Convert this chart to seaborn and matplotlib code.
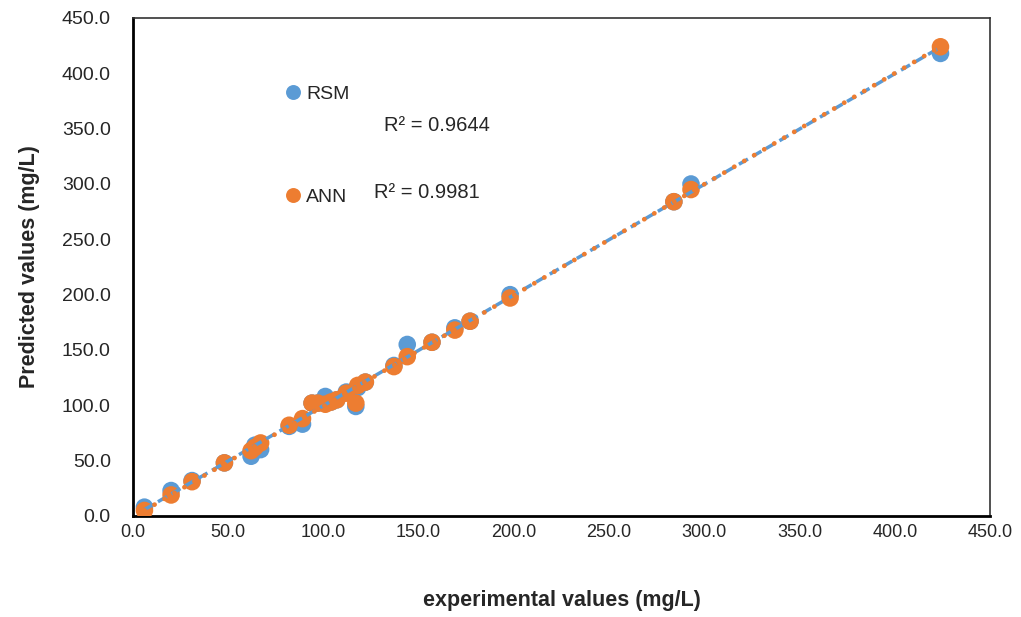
import numpy as np
import pandas as pd
import matplotlib
matplotlib.use("Agg")
import matplotlib.pyplot as plt
import seaborn as sns

# Data
experimental = [6, 20, 31, 48, 62, 64, 67, 82, 89, 94, 97, 101, 104, 107, 112, 117, 118, 122,
                137, 144, 157, 169, 177, 198, 284, 293, 424]
rsm_pred = [8, 23, 32, 48, 54, 64, 60, 81, 83, 102, 102, 108, 103, 105, 112, 99, 116, 121,
            136, 155, 157, 170, 176, 200, 284, 300, 418]
ann_pred = [5, 19, 31, 48, 59, 62, 66, 82, 88, 102, 102, 101, 103, 105, 111, 102, 118, 121,
            135, 144, 157, 168, 176, 197, 284, 295, 424]
r2_labels = {"RSM": "R² = 0.9644", "ANN": "R² = 0.9981"}
x_ticks = np.arange(0, 451, 50)
y_ticks = np.arange(0, 451, 50)

df = pd.DataFrame({
    "experimental": experimental * 2,
    "predicted": rsm_pred + ann_pred,
    "model": ["RSM"] * len(experimental) + ["ANN"] * len(experimental),
})

sns.set_theme(style="white")
plt.rcParams["font.family"] = ["Liberation Sans", "DejaVu Sans"]

colors = {"RSM": "#5B9BD5", "ANN": "#ED7D31"}

fig = plt.figure(figsize=(10.21, 6.17), dpi=100)
ax = fig.add_axes([133 / 1021, 1 - 516 / 617, (990 - 133) / 1021, (516 - 18) / 617])

sns.scatterplot(data=df, x="experimental", y="predicted", hue="model",
                palette=colors, s=160, edgecolor="none", ax=ax, legend=True, zorder=3)

sub = df[df.model == "RSM"]
sns.regplot(data=sub, x="experimental", y="predicted", scatter=False, ci=None, ax=ax,
            line_kws=dict(color=colors["RSM"], linestyle=(0, (3, 1.5)), linewidth=2.5, zorder=4))
sub = df[df.model == "ANN"]
sns.regplot(data=sub, x="experimental", y="predicted", scatter=False, ci=None, ax=ax,
            line_kws=dict(color=colors["ANN"], linestyle=(0, (0.05, 2.4)), linewidth=3.4,
                          dash_capstyle="round", zorder=5))

ax.set_xlim(0, 450)
ax.set_ylim(0, 450)
ax.set_xticks(x_ticks)
ax.set_yticks(y_ticks)
ax.set_xticklabels([f"{v:.1f}" for v in x_ticks], fontsize=13)
ax.set_yticklabels([f"{v:.1f}" for v in y_ticks], fontsize=14)
ax.tick_params(axis="x", length=0, pad=6)
ax.tick_params(axis="y", length=0, pad=16)

ax.set_xlabel("experimental values (mg/L)", fontsize=15.5, fontweight="bold", labelpad=35)
ax.set_ylabel("Predicted values (mg/L)", fontsize=15.5, fontweight="bold", labelpad=16)

for side in ["left", "bottom"]:
    ax.spines[side].set_color("black")
    ax.spines[side].set_linewidth(2)
for side in ["top", "right"]:
    ax.spines[side].set_color("#333333")
    ax.spines[side].set_linewidth(1.2)
    ax.spines[side].set_linestyle((0, (2, 1)))

leg = ax.legend(title=None, loc="upper left", bbox_to_anchor=(0.144, 0.9), frameon=False,
                fontsize=14, labelspacing=4.4, handletextpad=-0.35, markerscale=0.85)

ax.text(0.293, 0.785, r2_labels["RSM"], transform=ax.transAxes, fontsize=14.5,
        va="center", ha="left")
ax.text(0.281, 0.65, r2_labels["ANN"], transform=ax.transAxes, fontsize=14.5,
        va="center", ha="left")

fig.savefig("out.png", dpi=100)
